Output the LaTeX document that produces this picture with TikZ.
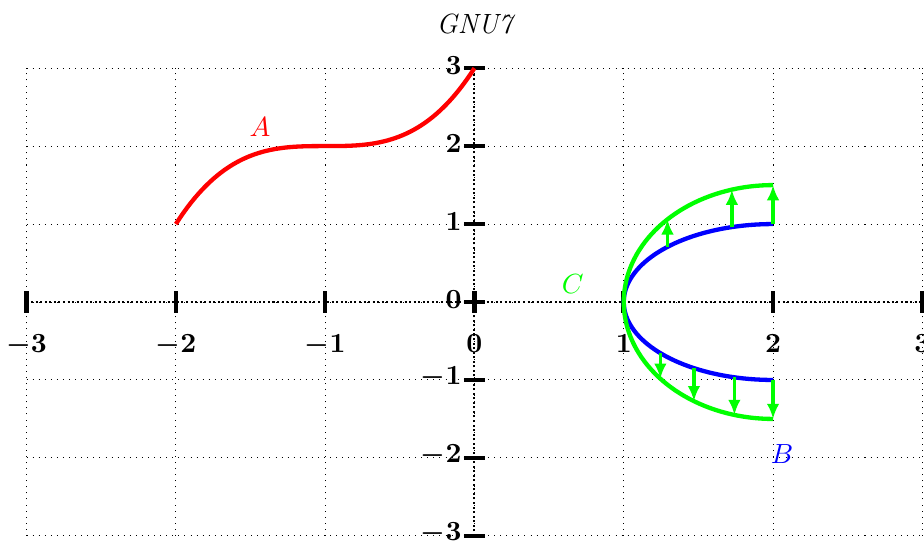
\documentclass[tikz,border=0pt]{standalone}
\usepackage{xcolor}
\usepackage{tikz}
\usetikzlibrary{arrows.meta,positioning,calc}

\begin{document}
\begin{tikzpicture}[x=2.074cm,y=1.083cm,font=\fontsize{11}{13}\selectfont]
    \tikzset{
      gridline/.style={dotted,draw=black},
      axisline/.style={densely dotted,draw=black,line width=0.8pt},
      tickmark/.style={draw=black,line width=1.8pt},
      ticklabel/.style={font=\fontsize{11}{13}\selectfont\boldmath},
      curve/.style={line width=1.7pt},
      push/.style={-{Latex[length=6pt,width=5pt]},draw=green,line width=1.4pt},
      tag/.style={font=\fontsize{11}{13}\selectfont\itshape}
    }
    \useasboundingbox (-3.178,-3.079) rectangle (3.011,3.874);
    \draw[gridline,step={(1,1)}] (-3,-3) grid (3,3);
    \draw[axisline] (-3,0) -- (3,0);
    \draw[axisline] (0,-3) -- (0,3);
    \foreach \k [count=\i] in {-3,...,3} {
      \draw[tickmark] (\k,0) ++(0,-4.2pt) -- ++(0,8.4pt);
      \draw[tickmark] (0,\k) ++(-4.2pt,0) -- ++(8.4pt,0);
      \node[ticklabel,anchor=north] (xl\i) at ($(\k,0)+(0,-0.33cm)$) {$\k$};
      \node[ticklabel,anchor=east] (yl\i) at ($(0,\k)+(-0.055cm,0.04cm)$) {$\k$};
    }
    \node[tag] (title) at (0,3.566) {GNU7};
    % curves
    \draw[curve,red] plot[domain=-2:0,samples=80] (\x,{(\x+1)^3+2});
    \draw[curve,blue] plot[domain=90:270,samples=80] ({2+cos(\x)},{sin(\x)});
    \draw[curve,green] plot[domain=90:270,samples=80] ({2+cos(\x)},{1.5*sin(\x)});
    \foreach \a in {135,106,90,221,238,255,270}
      \draw[push] ({2+cos(\a)},{sin(\a)}) -- ({2+cos(\a)},{1.5*sin(\a)});
    \node[red] (labA) at (-1.436,2.244) {$A$};
    \node[blue] (labB) at (2.06,-1.95) {$B$};
    \node[green] (labC) at (0.658,0.231) {$C$};
  \end{tikzpicture}
\end{document}
